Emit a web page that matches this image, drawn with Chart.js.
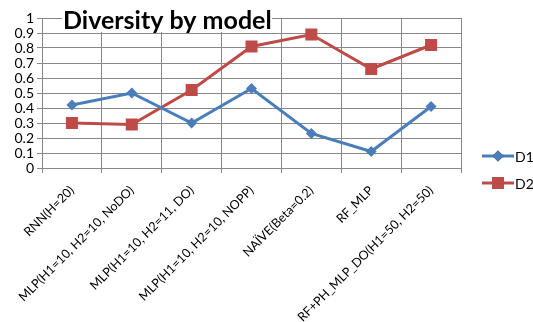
<!DOCTYPE html>
<html>
<head>
<meta charset="utf-8">
<script src="https://cdn.jsdelivr.net/npm/chart.js@4/dist/chart.umd.min.js"></script>
<style>
  html, body { margin: 0; padding: 0; background: #fff; }
  #wrap { position: relative; width: 533px; height: 322px; }
</style>
</head>
<body>
<div id="wrap"><canvas id="chart" width="533" height="322"></canvas></div>
<script>
// Chart data
const models = [
    "RNN(H=20)",
    "MLP(H1=10, H2=10, NoDO)",
    "MLP(H1=10, H2=11, DO)",
    "MLP(H1=10, H2=10, NOPP)",
    "NAÏVE(Beta=0.2)",
    "RF_MLP",
    "RF+PH_MLP_DO(H1=50, H2=50)"
];
const d1 = [0.42, 0.50, 0.30, 0.53, 0.23, 0.11, 0.41];
const d2 = [0.30, 0.29, 0.52, 0.81, 0.89, 0.66, 0.82];
const seriesNames = ["D1", "D2"];
const chartTitle = "Diversity by model";

const FONT = "Lato, 'Open Sans', sans-serif";
const GRID = "#888888";
const BLUE = "#4a7ebb";
const RED = "#be4b48";

// title box over the top of the plot, plus the side legend (line + marker)
const overlay = {
    id: "overlay",
    afterDraw(chart) {
        const ctx = chart.ctx;
        ctx.save();
        ctx.fillStyle = "#fff";
        ctx.fillRect(62, 4, 210, 28);
        ctx.fillStyle = "#000";
        ctx.font = "bold 25px " + FONT;
        ctx.textBaseline = "alphabetic";
        ctx.fillText(chartTitle, 63, 29);

        const rows = [156, 183];
        chart.data.datasets.forEach((ds, i) => {
            const y = rows[i];
            ctx.strokeStyle = ds.borderColor;
            ctx.lineWidth = 3;
            ctx.beginPath();
            ctx.moveTo(482, y);
            ctx.lineTo(514, y);
            ctx.stroke();
            Chart.helpers.drawPoint(ctx, {
                pointStyle: ds.pointStyle,
                radius: ds.pointRadius,
                borderWidth: 0
            }, 498, y);
            ctx.fillStyle = ds.backgroundColor;
            ctx.fill();
            ctx.fillStyle = "#000";
            ctx.font = "14px " + FONT;
            ctx.textBaseline = "middle";
            ctx.fillText(seriesNames[i], 515, y + 1);
        });
        ctx.restore();
    }
};

new Chart(document.getElementById("chart"), {
    type: "line",
    data: {
        labels: models,
        datasets: [
            {
                label: seriesNames[0], data: d1,
                borderColor: BLUE, backgroundColor: BLUE, borderWidth: 3,
                pointStyle: "rectRot", pointRadius: 5.5, pointHoverRadius: 5.5,
                pointBorderWidth: 0, tension: 0
            },
            {
                label: seriesNames[1], data: d2,
                borderColor: RED, backgroundColor: RED, borderWidth: 3,
                pointStyle: "rect", pointRadius: 8.5, pointHoverRadius: 8.5,
                pointBorderWidth: 0, tension: 0
            }
        ]
    },
    options: {
        responsive: false,
        animation: false,
        layout: { padding: { top: 18, right: 72, bottom: 0, left: 0 } },
        plugins: {
            legend: { display: false },
            title: { display: false },
            tooltip: { enabled: false }
        },
        scales: {
            x: {
                offset: true,
                grid: { offset: true, color: GRID, tickLength: 5, lineWidth: 1 },
                border: { color: GRID },
                ticks: {
                    autoSkip: false, minRotation: 45, maxRotation: 45,
                    color: "#000", font: { family: FONT, size: 12.5 }, padding: 10
                },
                afterFit: s => { s.height = 154; }
            },
            y: {
                min: 0, max: 1,
                grid: { color: GRID, tickLength: 5, lineWidth: 1 },
                border: { color: GRID },
                ticks: {
                    stepSize: 0.1, autoSkip: false, color: "#000", padding: 3,
                    font: { family: FONT, size: 14 },
                    callback: v => String(+v.toFixed(1))
                },
                afterFit: s => { s.width = 42; }
            }
        }
    },
    plugins: [overlay]
});
</script>
</body>
</html>
